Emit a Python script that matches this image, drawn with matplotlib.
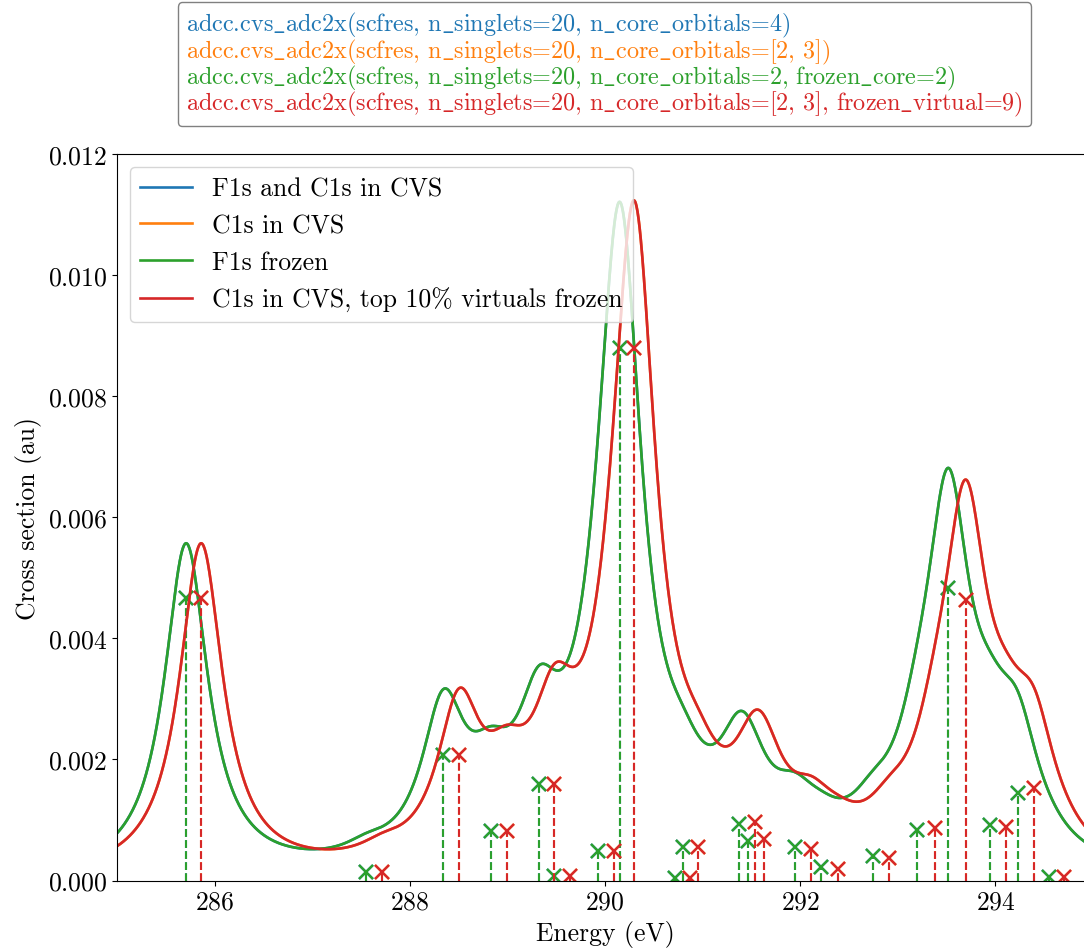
import numpy as np
import matplotlib
matplotlib.use("Agg")
import matplotlib.pyplot as plt
from matplotlib.lines import Line2D

plt.rcParams["font.family"] = ["cmr10", "DejaVu Serif"]
plt.rcParams["mathtext.fontset"] = "cm"
plt.rcParams["axes.formatter.use_mathtext"] = True
plt.rcParams["font.size"] = 18.5

# stick spectra (energy in eV, cross section in au)
e_frozen_core = [285.708, 287.556, 288.344, 288.830, 289.319, 289.473, 289.925,
                 290.154, 290.722, 290.798, 291.369, 291.465, 291.943, 292.218,
                 292.741, 293.200, 293.518, 293.940, 294.230, 294.545]
cs_frozen_core = [0.00467, 0.000145, 0.00207, 0.00081, 0.00159, 0.00007, 0.00049,
                  0.00880, 0.00004, 0.00056, 0.00094, 0.00065, 0.00055, 0.00022,
                  0.00040, 0.00084, 0.00483, 0.00092, 0.00145, 0.00005]
e_frozen_virt = [285.862, 287.718, 288.504, 288.994, 289.480, 289.641, 290.089,
                 290.301, 290.876, 290.952, 291.533, 291.629, 292.115, 292.389,
                 292.913, 293.381, 293.696, 294.107, 294.397, 294.705]
cs_frozen_virt = [0.00467, 0.000145, 0.00208, 0.00082, 0.00159, 0.00007, 0.00049,
                  0.00880, 0.00004, 0.00056, 0.00096, 0.00068, 0.00052, 0.00019,
                  0.00037, 0.00087, 0.00464, 0.00089, 0.00152, 0.00005]
# the full CVS runs lie exactly under the frozen ones
e_full = e_frozen_core
cs_full = cs_frozen_core
e_c1s = e_frozen_virt
cs_c1s = cs_frozen_virt

labels = ["F1s and C1s in CVS", "C1s in CVS", "F1s frozen",
          "C1s in CVS, top 10% virtuals frozen"]
calls = ["adcc.cvs_adc2x(scfres, n_singlets=20, n_core_orbitals=4)",
         "adcc.cvs_adc2x(scfres, n_singlets=20, n_core_orbitals=[2, 3])",
         "adcc.cvs_adc2x(scfres, n_singlets=20, n_core_orbitals=2, frozen_core=2)",
         "adcc.cvs_adc2x(scfres, n_singlets=20, n_core_orbitals=[2, 3], frozen_virtual=9)"]
colors = ["C0", "C1", "C2", "C3"]
spectra = [(e_full, cs_full), (e_c1s, cs_c1s),
           (e_frozen_core, cs_frozen_core), (e_frozen_virt, cs_frozen_virt)]

gamma = 0.01 * 27.211386  # lorentzian width, 0.01 au

fig = plt.figure(figsize=(10.84, 9.53), dpi=100)
ax = fig.add_axes([117 / 1084, 71.5 / 953, 976 / 1084, 726.5 / 953])

xs = np.linspace(284.5, 295.5, 2000)
for (e, cs), c, lab in zip(spectra, colors, labels):
    e = np.array(e)
    cs = np.array(cs)
    broad = np.zeros_like(xs)
    for x0, a in zip(e, cs):
        broad += a * gamma / np.pi / ((xs - x0) ** 2 + gamma ** 2)
    ax.plot(xs, broad, color=c, lw=1.9, label=lab)
    ax.plot(e, cs, "x", color=c, ms=10, mew=1.7)
    for x0, a in zip(e, cs):
        ax.plot([x0, x0], [0, a], "--", color=c, lw=1.5)

ax.set_xlim(285, 295)
ax.set_ylim(0, 0.012)
ax.set_xlabel("Energy (eV)")
ax.set_ylabel("Cross section (au)")
ax.legend(loc="upper left", handlelength=2.0)

# cmr10 has no underscore glyph, draw it through mathtext
call_texts = [s.replace("_", r"$\_$") for s in calls]
handles = [Line2D([], [], color=c) for c in colors]
fig.legend(handles, call_texts, loc="upper center", bbox_to_anchor=(604.5 / 1084, 0.997),
           handlelength=0, handletextpad=0, labelcolor=colors,
           borderaxespad=0.0, labelspacing=-0.12, borderpad=0.35, framealpha=1,
           edgecolor="gray", fontsize=17.4)

fig.savefig("out.png", dpi=100)
